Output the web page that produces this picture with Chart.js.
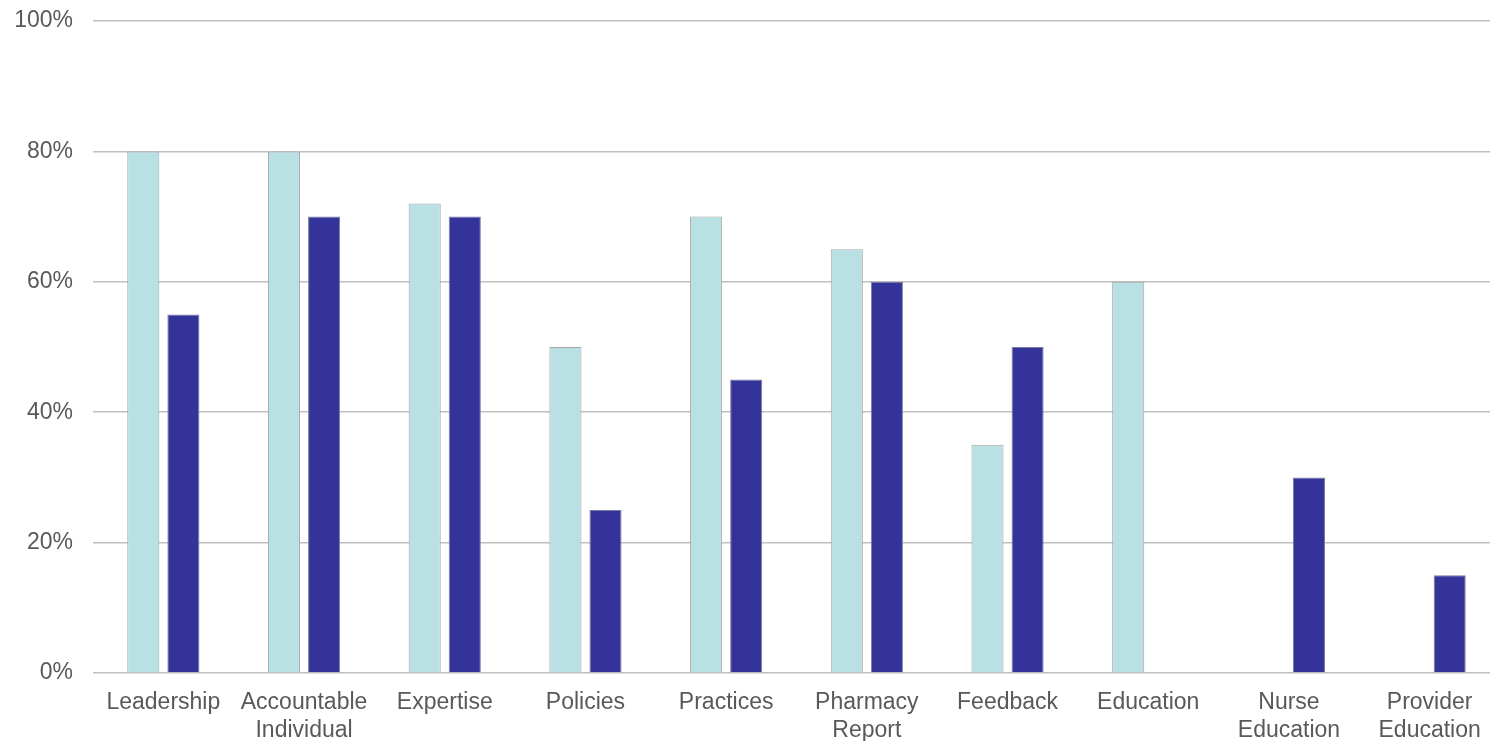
<!DOCTYPE html>
<html>
<head>
<meta charset="utf-8">
<script src="https://cdn.jsdelivr.net/npm/chart.js@4"></script>
<style>
  html, body { margin: 0; padding: 0; background: #fff; overflow: hidden; }
  #wrap { width: 1500px; height: 741px; }
</style>
</head>
<body>
<div id="wrap"><canvas id="barChart" width="1500" height="741"></canvas></div>
<script>
var categories = [
    'Leadership', ['Accountable', 'Individual'], 'Expertise', 'Policies', 'Practices',
    ['Pharmacy', 'Report'], 'Feedback', 'Education', ['Nurse', 'Education'], ['Provider', 'Education']
];
var seriesLight = [80, 80, 72, 50, 70, 65, 35, 60, 0, 0];
var seriesDark  = [55, 70, 70, 25, 45, 60, 50, 0, 30, 15];
var yTicks = [0, 20, 40, 60, 80, 100];

var ctx = document.getElementById('barChart').getContext('2d');
var myChart = new Chart(ctx, {
    type: 'bar',
    data: {
        labels: categories,
        datasets: [{
            label: 'Series 1',
            data: seriesLight,
            backgroundColor: '#b9e0e3',
            borderColor: '#a6a6a6',
            borderWidth: 1,
            categoryPercentage: 0.57,
            barPercentage: 0.8
        },{
            label: 'Series 2',
            data: seriesDark,
            backgroundColor: '#333399',
            borderColor: '#7a7a9e',
            borderWidth: 1,
            categoryPercentage: 0.57,
            barPercentage: 0.8
        }]
    },
    options: {
        responsive: false,
        animation: false,
        layout: { padding: 0 },
        plugins: {
            legend: { display: false },
            tooltip: { enabled: false }
        },
        scales: {
            x: {
                grid: { display: false, drawTicks: false },
                border: { display: false },
                afterFit: function(axis) { axis.height = 68; },
                ticks: {
                    color: '#595959',
                    padding: 16,
                    maxRotation: 0,
                    autoSkip: false,
                    font: { family: 'Liberation Sans', size: 23, lineHeight: 1.2 }
                }
            },
            y: {
                min: 0,
                max: 100,
                afterBuildTicks: function(axis) {
                    axis.ticks = yTicks.map(function(v) { return { value: v }; });
                },
                afterFit: function(axis) {
                    axis.width = 93;
                    axis.paddingTop = 21;
                    axis.paddingBottom = 0;
                },
                grid: { color: '#c0c0c0', lineWidth: 1.5, drawTicks: false },
                border: { display: false },
                ticks: {
                    color: '#595959',
                    padding: 20,
                    font: { family: 'Liberation Sans', size: 23 },
                    callback: function(v) { return v + '%'; }
                }
            }
        }
    }
});
</script>
</body>
</html>
